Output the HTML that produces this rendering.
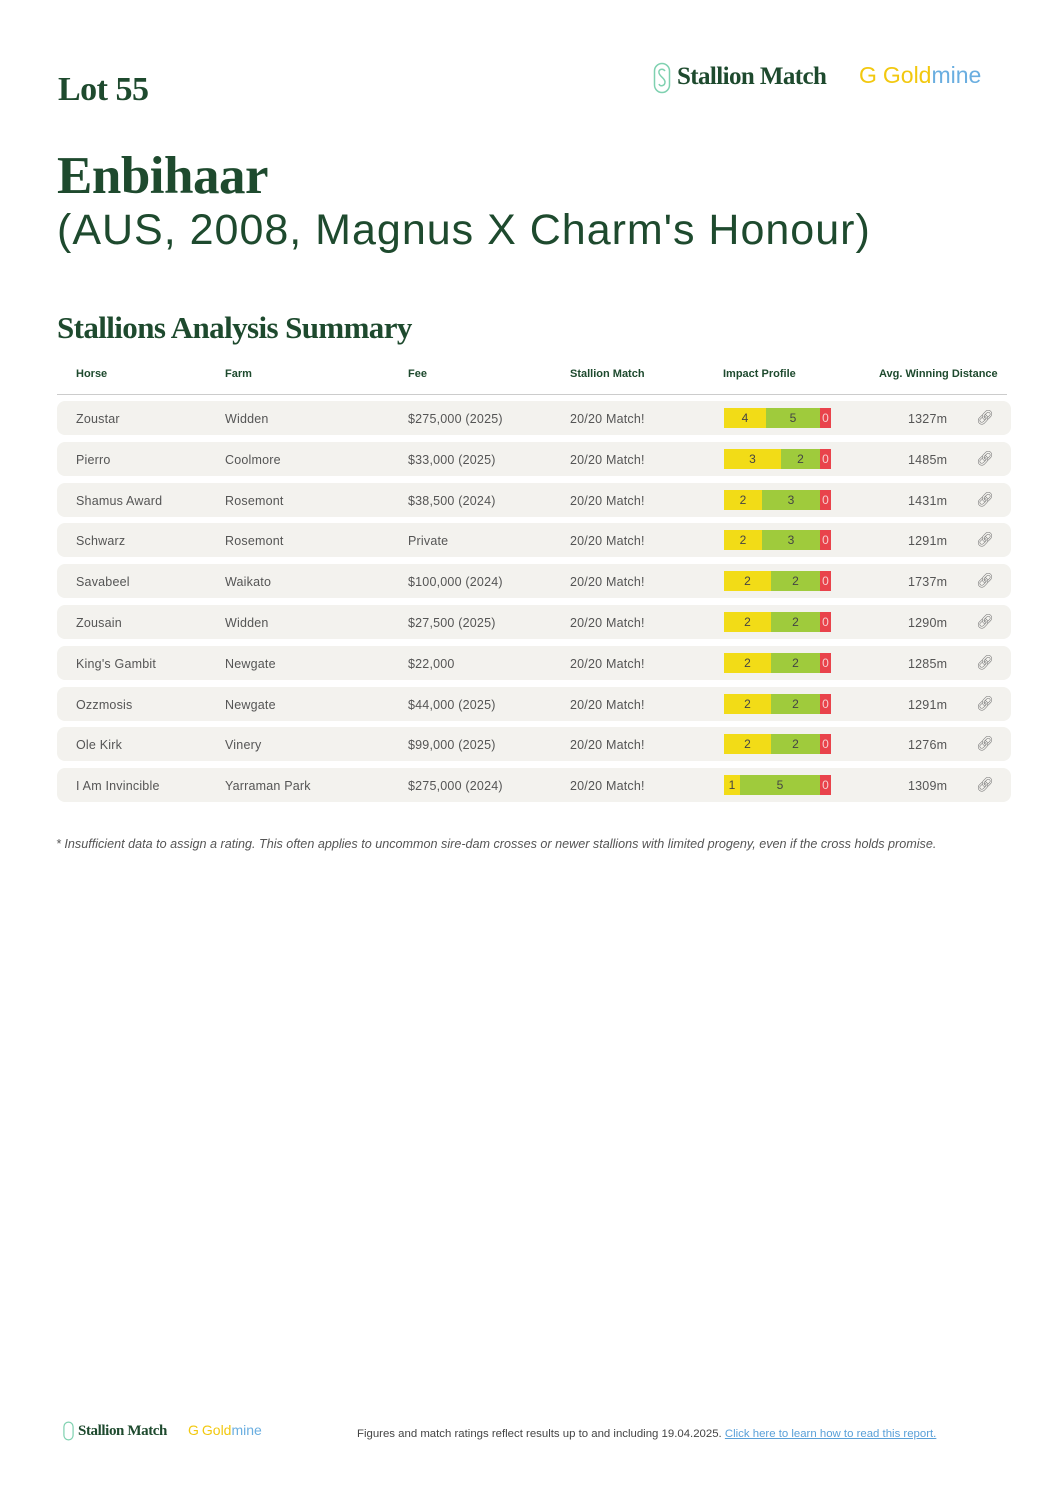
<!DOCTYPE html>
<html><head><meta charset="utf-8"><style>
body{margin:0;width:1061px;height:1500px;background:#fff;position:relative;font-family:"Liberation Sans",sans-serif;overflow:hidden}
.a{position:absolute;white-space:nowrap}
.g{color:#1e4a2e}
.serif{font-family:"Liberation Serif",serif}
.hd{font-size:11px;font-weight:bold;color:#1e4a2e;top:368px}
.row{position:absolute;left:57px;width:954px;height:34px;background:#f3f2ee;border-radius:8px}
.row span{position:absolute;top:11px;font-size:12.5px;color:#555;letter-spacing:.2px}
.bar{position:absolute;top:7px;height:20px;font-size:12px;color:#444;text-align:center;line-height:21px}
.y{background:#f2dc17}.gr{background:#9fcb3c}.r{background:#e9434b;color:#f6d0d0}
</style></head><body>
<div class="a g serif" style="left:58px;top:71px;font-size:34px;font-weight:bold;letter-spacing:-0.5px">Lot 55</div>
<svg class="a" style="left:653px;top:62px" width="18" height="32" viewBox="0 0 18 32"><rect x="1.5" y="1.5" width="15" height="29" rx="7.5" fill="none" stroke="#7fd1b0" stroke-width="1.5"/><path d="M12 9c-2-3-7-2-6 2s6 5 6 9-5 5-6 2" fill="none" stroke="#7fd1b0" stroke-width="1.5"/></svg>
<div class="a g serif" style="left:677px;top:63px;font-size:25px;font-weight:bold;letter-spacing:-0.6px">Stallion Match</div>
<div class="a" style="left:859px;top:62px;font-size:23px;color:#f2c80f">G<span style="margin-left:6px">Gold</span><span style="color:#6aaee0">mine</span></div>
<div class="a g serif" style="left:57px;top:146px;font-size:53px;font-weight:bold;letter-spacing:-0.5px">Enbihaar</div>
<div class="a g" style="left:57px;top:206px;font-size:43px;letter-spacing:1px">(AUS, 2008, Magnus X Charm's Honour)</div>
<div class="a g serif" style="left:57px;top:310px;font-size:31px;font-weight:bold;letter-spacing:-0.6px">Stallions Analysis Summary</div>
<div class="a hd" style="left:76px">Horse</div>
<div class="a hd" style="left:225px">Farm</div>
<div class="a hd" style="left:408px">Fee</div>
<div class="a hd" style="left:570px">Stallion Match</div>
<div class="a hd" style="left:723px">Impact Profile</div>
<div class="a hd" style="left:879px">Avg. Winning Distance</div>
<div class="a" style="left:57px;top:394px;width:950px;height:1px;background:#ccc"></div>
<div id="rows"></div>
<div class="a" style="left:56px;top:837px;font-size:12.6px;font-style:italic;color:#555">* Insufficient data to assign a rating. This often applies to uncommon sire-dam crosses or newer stallions with limited progeny, even if the cross holds promise.</div>
<svg class="a" style="left:63px;top:1421px" width="11" height="20" viewBox="0 0 18 32"><rect x="1.5" y="1.5" width="15" height="29" rx="7.5" fill="none" stroke="#7fd1b0" stroke-width="2"/></svg>
<div class="a g serif" style="left:78px;top:1423px;font-size:15px;font-weight:bold;letter-spacing:-0.4px">Stallion Match</div>
<div class="a" style="left:188px;top:1422px;font-size:14px;color:#f2c80f">G<span style="margin-left:3px">Gold</span><span style="color:#6aaee0">mine</span></div>
<div class="a" style="left:357px;top:1428px;font-size:11.4px;color:#444">Figures and match ratings reflect results up to and including 19.04.2025. <span style="color:#5aa0d8;text-decoration:underline">Click here to learn how to read this report.</span></div>
<script>
var d=[["Zoustar","Widden","$275,000 (2025)",4,5,766,1327],["Pierro","Coolmore","$33,000 (2025)",3,2,781,1485],["Shamus Award","Rosemont","$38,500 (2024)",2,3,762,1431],["Schwarz","Rosemont","Private",2,3,762,1291],["Savabeel","Waikato","$100,000 (2024)",2,2,771,1737],["Zousain","Widden","$27,500 (2025)",2,2,771,1290],["King's Gambit","Newgate","$22,000",2,2,771,1285],["Ozzmosis","Newgate","$44,000 (2025)",2,2,771,1291],["Ole Kirk","Vinery","$99,000 (2025)",2,2,771,1276],["I Am Invincible","Yarraman Park","$275,000 (2024)",1,5,740,1309]];
var h="";d.forEach(function(r,i){var t=401+i*40.8;var ye=r[5]-57,ys=724-57;
h+='<div class="row" style="top:'+t+'px"><span style="left:19px">'+r[0]+'</span><span style="left:168px">'+r[1]+'</span><span style="left:351px">'+r[2]+'</span><span style="left:513px">20/20 Match!</span>'+
'<div class="bar y" style="left:'+ys+'px;width:'+(ye-ys)+'px">'+r[3]+'</div><div class="bar gr" style="left:'+ye+'px;width:'+(763-ye)+'px">'+r[4]+'</div><div class="bar r" style="left:763px;width:11px">0</div>'+
'<span style="left:851px">'+r[6]+'m</span><span style="left:919px;top:8px;font-size:14px;color:#777">&#128279;&#xFE0E;</span></div>';});
document.getElementById("rows").innerHTML=h;
</script>
</body></html>
